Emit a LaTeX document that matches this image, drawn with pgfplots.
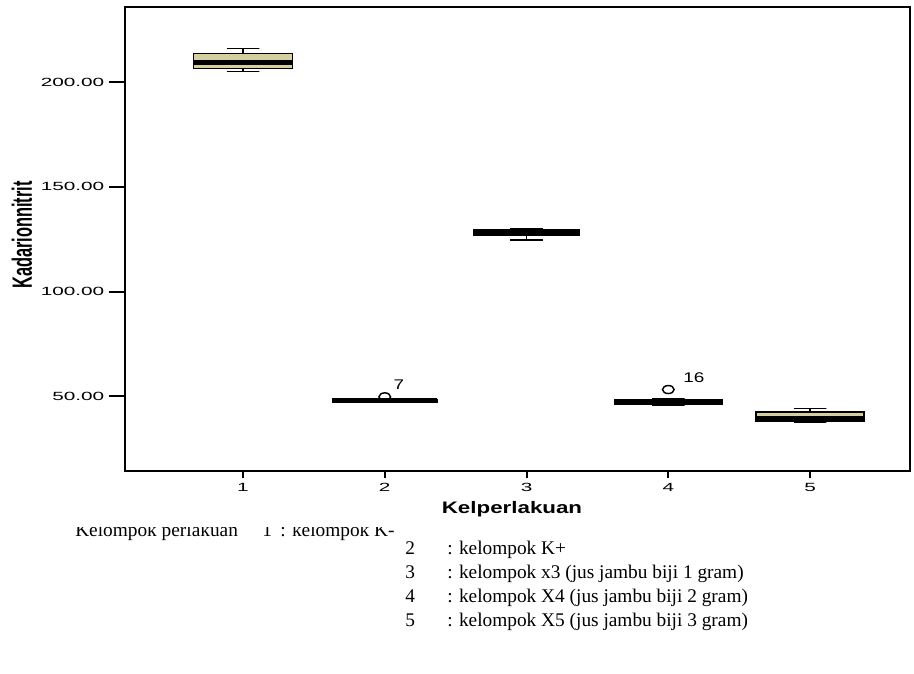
\documentclass[border=0pt]{standalone}
\usepackage{pgfplots}
\pgfplotsset{compat=1.18}
\usepackage{graphicx}
\usepackage{fontspec}
\setmainfont{Liberation Serif}
\newfontfamily\arial{Liberation Sans}
\definecolor{boxtan}{RGB}{212,206,160}
\pgfdeclareplotmark{ell}{%
  \pgfpathellipse{\pgfpointorigin}{\pgfpoint{1.45\pgfplotmarksize}{0pt}}{\pgfpoint{0pt}{\pgfplotmarksize}}%
  \pgfusepathqstroke}
\pgfplotsset{
  base/.style={
    at={(0pt,0pt)}, anchor=south west,
    scale only axis, width=588.75pt, height=348pt,
    xmin=0.1676, xmax=5.705, ymin=14.3, ymax=235.9,
    axis line style={line width=1.5pt},
    tick align=outside,
    tick style={line width=1.5pt, black},
    clip=false,
  }
}
\begin{document}
\begin{tikzpicture}
% y ticks (long)
\begin{axis}[base,
  xtick=\empty, ytick={50,100,150,200}, ytick pos=left,
  major tick length=12pt,
  yticklabels={\scalebox{1.75}[1]{50.00},\scalebox{1.75}[1]{100.00},\scalebox{1.75}[1]{150.00},\scalebox{1.75}[1]{200.00}},
  yticklabel style={font=\arial\fontsize{8.9}{10}\selectfont},
]
\end{axis}
% data + x ticks (short)
\begin{axis}[base,
  ytick=\empty, xtick={1,2,3,4,5}, xtick pos=bottom,
  major tick length=5.5pt,
  xticklabels={\scalebox{1.75}[1]{1},\scalebox{1.75}[1]{2},\scalebox{1.75}[1]{3},\scalebox{1.75}[1]{4},\scalebox{1.75}[1]{5}},
  xticklabel style={font=\arial\fontsize{8.9}{10}\selectfont},
  whisk/.style={draw=black, line width=1.1pt, mark=none},
  bx/.style={draw=black, line width=1.1pt, fill=boxtan, mark=none},
  med/.style={draw=black, line width=3.75pt, mark=none},
]
% group 1
\addplot[whisk] coordinates {(0.885,216.2) (1.115,216.2) (1,216.2) (1,213.6)};
\addplot[whisk] coordinates {(0.885,205.1) (1.115,205.1) (1,205.1) (1,206.4)};
\addplot[bx] coordinates {(0.65,206.4) (1.35,206.4) (1.35,213.6) (0.65,213.6)} -- cycle;
\addplot[med] coordinates {(0.65,209.3) (1.35,209.3)};
% group 2
\addplot[whisk] coordinates {(1.885,48.5) (2.115,48.5) (2,48.5) (2,48.3)};
\addplot[whisk] coordinates {(1.885,47.0) (2.115,47.0) (2,47.0) (2,47.2)};
\addplot[bx] coordinates {(1.63,47.2) (2.37,47.2) (2.37,48.3) (1.63,48.3)} -- cycle;
\addplot[med] coordinates {(1.63,47.8) (2.37,47.8)};
% group 3
\addplot[whisk] coordinates {(2.885,129.8) (3.115,129.8) (3,129.8) (3,129.6)};
\addplot[whisk] coordinates {(2.885,124.6) (3.115,124.6) (3,124.6) (3,126.8)};
\addplot[bx] coordinates {(2.63,126.8) (3.37,126.8) (3.37,129.6) (2.63,129.6)} -- cycle;
\addplot[med] coordinates {(2.63,128.2) (3.37,128.2)};
% group 4
\addplot[whisk] coordinates {(3.885,48.6) (4.115,48.6) (4,48.6) (4,48.4)};
\addplot[whisk] coordinates {(3.885,45.8) (4.115,45.8) (4,45.8) (4,46.0)};
\addplot[bx] coordinates {(3.62,46.0) (4.38,46.0) (4.38,48.4) (3.62,48.4)} -- cycle;
\addplot[med] coordinates {(3.62,47.0) (4.38,47.0)};
% group 5
\addplot[whisk] coordinates {(4.885,44.1) (5.115,44.1) (5,44.1) (5,42.4)};
\addplot[whisk] coordinates {(4.885,37.8) (5.115,37.8) (5,37.8) (5,38.1)};
\addplot[bx] coordinates {(4.62,38.1) (5.38,38.1) (5.38,42.4) (4.62,42.4)} -- cycle;
\addplot[med] coordinates {(4.62,39.4) (5.38,39.4)};
% outliers
\addplot[only marks, mark=ell, mark size=3pt, mark options={line width=1.1pt, black}] coordinates {(2,49.7) (4,53.2)};
\node[font=\arial\fontsize{10.5}{12}\selectfont] at (axis cs:2.1,55.4) {\scalebox{1.35}[1]{7}};
\node[font=\arial\fontsize{10.5}{12}\selectfont] at (axis cs:4.18,58.7) {\scalebox{1.35}[1]{16}};
\end{axis}
% axis labels
\node[rotate=90, font=\arial\bfseries\fontsize{12.3}{14}\selectfont] at (-77.25pt,177pt) {\scalebox{1}[1.7]{Kadarionnitrit}};
\node[font=\arial\bfseries\fontsize{12.5}{14}\selectfont] at (290.25pt,-28.5pt) {\scalebox{1.34}[1]{Kelperlakuan}};
% legend text
\begin{scope}[every node/.style={anchor=base west, inner sep=0pt, font=\fontsize{14.5}{17}\selectfont}]
\node at (-37.5pt,-49.5pt) {Kelompok perlakuan};
\node at (102.75pt,-49.5pt) {1};
\node at (116.25pt,-49.5pt) {: kelompok K-};
\fill[white] (-45pt,-42pt) rectangle (240pt,-36pt);
\node at (210pt,-63pt) {2};
\node at (241.5pt,-63pt) {: kelompok K+};
\node at (210pt,-81pt) {3};
\node at (241.5pt,-81pt) {: kelompok x3 (jus jambu biji 1 gram)};
\node at (210pt,-99pt) {4};
\node at (241.5pt,-99pt) {: kelompok X4 (jus jambu biji 2 gram)};
\node at (210pt,-117pt) {5};
\node at (241.5pt,-117pt) {: kelompok X5 (jus jambu biji 3 gram)};
\end{scope}
\useasboundingbox (-93.75pt,-152.25pt) rectangle (591.75pt,353.25pt);
\end{tikzpicture}
\end{document}
